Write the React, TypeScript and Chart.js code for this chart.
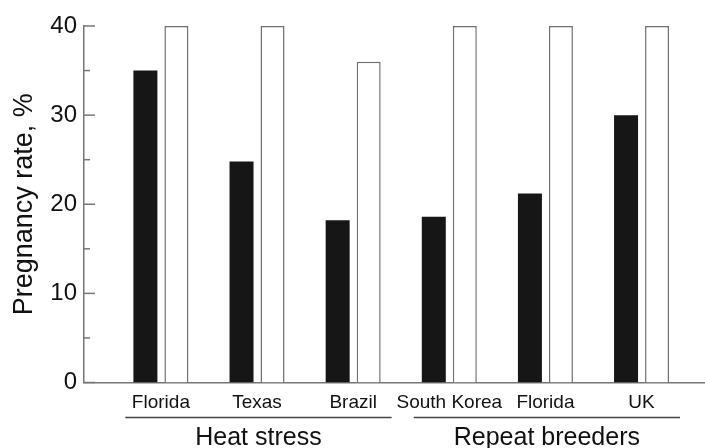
import React, { useEffect, useRef } from "react";
import { Chart, registerables } from "chart.js";

Chart.register(...registerables);

const categories = ["Florida", "Texas", "Brazil", "South Korea", "Florida", "UK"];
const blackValues = [35, 24.8, 18.2, 18.6, 21.2, 30];
const whiteValues = [40, 40, 36, 40, 40, 40];
const yMajorTicks = [0, 10, 20, 30, 40];
const yMinorTicks = [5, 15, 25, 35];
const groupNames = ["Heat stress", "Repeat breeders"];
const groupStart = [0, 3];
const groupEnd = [2, 5];

const FONT = "'Liberation Sans', Arial, sans-serif";
const AXIS_COLOR = "#777777";
const TEXT_COLOR = "#111111";

const extrasPlugin = {
  id: "extras",
  afterDraw(chart: any) {
    const ctx = chart.ctx;
    const y = chart.scales.y;
    const x = chart.scales.x;
    const left = chart.chartArea.left;
    ctx.save();
    ctx.strokeStyle = AXIS_COLOR;
    ctx.lineWidth = 1.5;
    yMajorTicks.forEach((v) => {
      const py = y.getPixelForValue(v);
      ctx.beginPath();
      ctx.moveTo(left, py);
      ctx.lineTo(left + 11, py);
      ctx.stroke();
    });
    yMinorTicks.forEach((v) => {
      const py = y.getPixelForValue(v);
      ctx.beginPath();
      ctx.moveTo(left, py);
      ctx.lineTo(left + 6, py);
      ctx.stroke();
    });
    ctx.strokeStyle = "#444444";
    ctx.lineWidth = 1.5;
    ctx.fillStyle = TEXT_COLOR;
    ctx.font = `25px ${FONT}`;
    ctx.textAlign = "center";
    ctx.textBaseline = "middle";
    groupNames.forEach((name, i) => {
      const x1 = x.getPixelForValue(groupStart[i] - 0.37);
      const x2 = x.getPixelForValue(groupEnd[i] + 0.4);
      const ly = 417.5;
      ctx.beginPath();
      ctx.moveTo(x1, ly);
      ctx.lineTo(x2, ly);
      ctx.stroke();
      ctx.fillText(name, (x1 + x2) / 2, 438);
    });
    ctx.restore();
  },
};

export default function App() {
  const canvasRef = useRef<HTMLCanvasElement | null>(null);

  useEffect(() => {
    document.body.style.margin = "0";
    const canvas = canvasRef.current;
    if (!canvas) return;
    const chart = new Chart(canvas, {
      type: "bar",
      data: {
        datasets: [
          {
            label: "Black",
            data: blackValues.map((v, i) => ({ x: i, y: v })),
            backgroundColor: "#161616",
            borderWidth: 0,
            barPercentage: 0.774,
            categoryPercentage: 0.645,
          },
          {
            label: "White",
            data: whiteValues.map((v, i) => ({ x: i, y: v })),
            backgroundColor: "#ffffff",
            borderColor: "#707070",
            borderWidth: 1.5,
            barPercentage: 0.774,
            categoryPercentage: 0.645,
          },
        ],
      },
      options: {
        animation: false,
        responsive: false,
        maintainAspectRatio: false,
        layout: { padding: { top: 26, right: 0, left: 0, bottom: 0 } },
        plugins: {
          legend: { display: false },
          tooltip: { enabled: false },
        },
        scales: {
          x: {
            type: "linear",
            offset: false,
            min: -0.8,
            max: 5.66,
            grid: { display: false, drawTicks: false, offset: false },
            border: { display: true, color: AXIS_COLOR, width: 1.5 },
            afterBuildTicks: (scale: any) => {
              scale.ticks = categories.map((_, i) => ({ value: i }));
            },
            afterFit: (scale: any) => {
              scale.height = 65.5;
            },
            ticks: {
              autoSkip: false,
              maxRotation: 0,
              padding: 9,
              color: TEXT_COLOR,
              font: { family: FONT, size: 19 },
              callback: (v: any) => categories[v as number] ?? "",
            },
          },
          y: {
            min: 0,
            max: 40,
            grid: { display: false, drawTicks: false },
            border: { display: true, color: AXIS_COLOR, width: 1.5 },
            afterBuildTicks: (scale: any) => {
              scale.ticks = yMajorTicks.map((v) => ({ value: v }));
            },
            afterFit: (scale: any) => {
              scale.width = 84;
            },
            ticks: {
              padding: 7,
              color: TEXT_COLOR,
              font: { family: FONT, size: 24 },
            },
            title: {
              display: true,
              text: "Pregnancy rate, %",
              color: TEXT_COLOR,
              font: { family: FONT, size: 27 },
              padding: { top: 8, bottom: 0 },
            },
          },
        },
      },
      plugins: [extrasPlugin],
    });
    return () => chart.destroy();
  }, []);

  return (
    <div style={{ width: 705, height: 448 }}>
      <canvas ref={canvasRef} width={705} height={448} />
    </div>
  );
}
